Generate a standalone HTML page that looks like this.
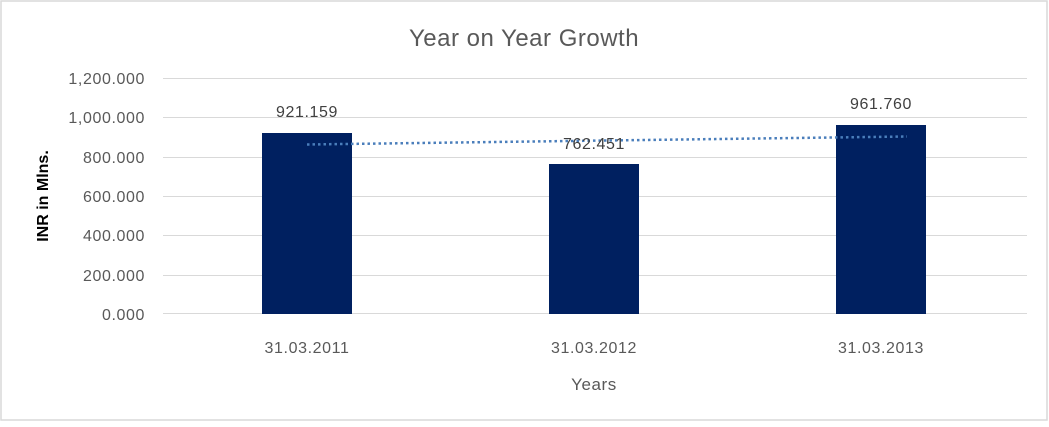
<!DOCTYPE html>
<html><head><style>body{margin:0;background:#fff}</style></head><body>
<svg width="1049" height="422" xmlns="http://www.w3.org/2000/svg" font-family="Liberation Sans, sans-serif">
<rect x="1" y="1" width="1046" height="419" fill="#fff" stroke="#d9d9d9" stroke-width="1.5"/>
<text x="524" y="46" text-anchor="middle" font-size="24" fill="#595959" letter-spacing="0.5">Year on Year Growth</text>
<g stroke="#d9d9d9" stroke-width="1">
<line x1="163" x2="1027" y1="78.5" y2="78.5"/><line x1="163" x2="1027" y1="117.5" y2="117.5"/>
<line x1="163" x2="1027" y1="157.5" y2="157.5"/><line x1="163" x2="1027" y1="196.5" y2="196.5"/>
<line x1="163" x2="1027" y1="235.5" y2="235.5"/><line x1="163" x2="1027" y1="275.5" y2="275.5"/>
<line x1="163" x2="1027" y1="313.5" y2="313.5"/></g>
<g font-size="16" fill="#595959" text-anchor="end" letter-spacing="0.6">
<text x="145" y="84">1,200.000</text><text x="145" y="123">1,000.000</text><text x="145" y="163">800.000</text>
<text x="145" y="202">600.000</text><text x="145" y="241">400.000</text><text x="145" y="281">200.000</text><text x="145" y="320">0.000</text></g>
<g fill="#002060"><rect x="262" y="133" width="90" height="181"/><rect x="549" y="164" width="90" height="150"/><rect x="836" y="125" width="90" height="189"/></g>
<line x1="307" y1="144.5" x2="907" y2="136.5" stroke="#4a7ebb" stroke-width="2.5" stroke-dasharray="2.5,3"/>
<g font-size="16" fill="#404040" text-anchor="middle" letter-spacing="0.6">
<text x="307" y="117">921.159</text><text x="594" y="149">762.451</text><text x="881" y="109">961.760</text></g>
<g font-size="16" fill="#595959" text-anchor="middle" letter-spacing="0.6">
<text x="307" y="353">31.03.2011</text><text x="594" y="353">31.03.2012</text><text x="881" y="353">31.03.2013</text>
<text x="594" y="390" font-size="17">Years</text></g>
<text transform="translate(48,196) rotate(-90)" text-anchor="middle" font-size="16" font-weight="bold" fill="#000">INR in Mlns.</text>
</svg>
</body></html>
